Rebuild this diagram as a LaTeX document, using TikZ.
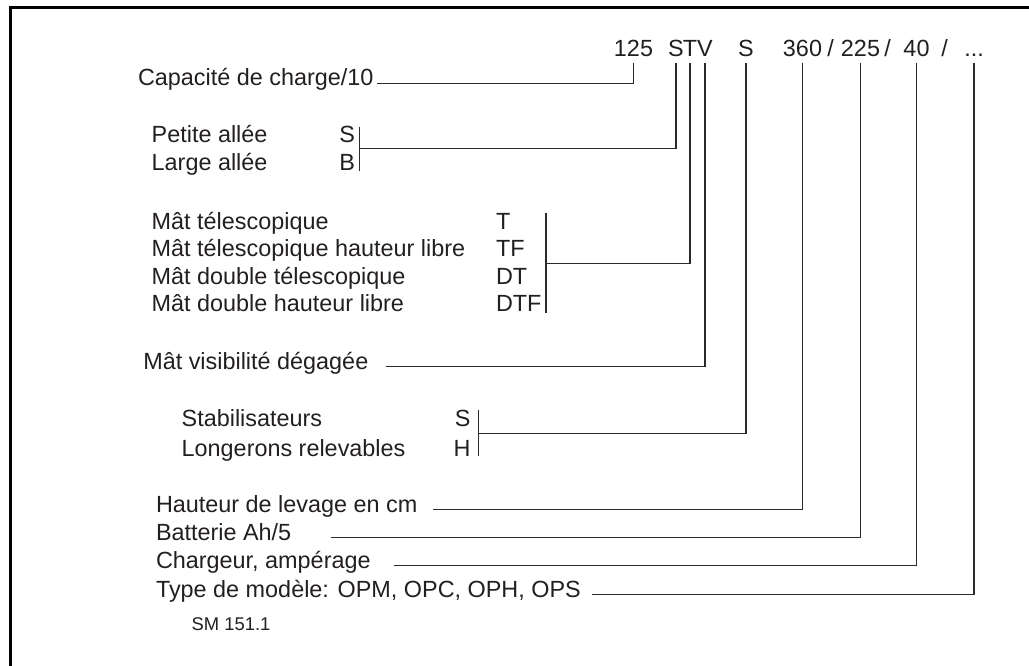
\documentclass[tikz,border=0pt]{standalone}
\usepackage{fontspec}
\setmainfont{Liberation Sans}
\usetikzlibrary{calc}
\definecolor{txt}{HTML}{231F20}
\definecolor{ln}{HTML}{2A2A2A}
\begin{document}
\begin{tikzpicture}[x=1pt,y=-1pt,
  lbl/.style={anchor=base west,inner sep=0pt,outer sep=0pt,text=txt,font=\fontsize{23.4}{28}\selectfont},
  lblr/.style={lbl,anchor=base east},
  code/.style={lbl,anchor=base},
  small/.style={lbl,font=\fontsize{18.4}{22}\selectfont},
  conn/.style={draw=ln,line width=1.1pt},
  frame/.style={draw=black,line width=3pt}]
\useasboundingbox (0,0) rectangle (1029,666);
\draw[frame] (10.3,670) -- (10.3,7.5) -- (1035,7.5);

% code line
\node[code] (c125) at (633.5,56.7) {125};
\node[code] (cS) at (676,56.7) {S};
\node[code] (cT) at (690,56.7) {T};
\node[code] (cV) at (705,56.7) {V};
\node[code] (cS2) at (746,56.7) {S};
\node[code] (c360) at (802.5,56.7) {360};
\node[code] (sl1) at (830.5,56.7) {/};
\node[code] (c225) at (860.5,56.7) {225};
\node[code] (sl2) at (887.5,56.7) {/};
\node[code] (c40) at (916.5,56.7) {40};
\node[code] (sl3) at (944.5,56.7) {/};
\node[code] (cdots) at (974,56.7) {...};

% labels
\node[lbl] (cap) at (138,86) {Capacité de charge/10};

\node[lbl] (pa) at (151.7,143) {Petite allée};
\node[lbl] (la) at (151.7,171) {Large allée};
\node[lblr] (lS) at (355,143) {S};
\node[lblr] (lB) at (355,171) {B};

\node[lbl] (m1) at (151.7,229.3) {Mât télescopique};
\node[lbl] (m2) at (151.7,256.7) {Mât télescopique hauteur libre};
\node[lbl] (m3) at (151.7,284) {Mât double télescopique};
\node[lbl] (m4) at (151.7,311.7) {Mât double hauteur libre};
\node[lbl] (mT) at (496,229.3) {T};
\node[lbl] (mTF) at (496,256.7) {TF};
\node[lbl] (mDT) at (496,284) {DT};
\node[lbl] (mDTF) at (496,311.7) {DTF};

\node[lbl] (mv) at (143.3,369) {Mât visibilité dégagée};

\node[lbl] (st) at (181.7,426.7) {Stabilisateurs};
\node[lbl] (lo) at (181.7,456) {Longerons relevables};
\node[lblr] (sS) at (470.5,426.7) {S};
\node[lblr] (sH) at (470.5,456) {H};

\node[lbl] (hl) at (156,512) {Hauteur de levage en cm};
\node[lbl] (bat) at (156,540.5) {Batterie Ah/5};
\node[lbl] (chg) at (156,568.5) {Chargeur, ampérage};
\node[lbl] (typ) at (156,597) {Type de modèle: OPM, OPC, OPH, OPS};
\node[small] (sm) at (191.7,630.7) {SM 151.1};

% brackets
\coordinate (sbT) at ([xshift=4.5pt]lS.north east);
\coordinate (sbB) at ([xshift=4.5pt]lB.base east);
\draw[conn] (sbT) -- (sbB);
\coordinate (sbm) at ($(sbT)!0.5!(sbB)$);

\coordinate (mbB) at ([xshift=4.5pt,yshift=-1.5pt]mDTF.base east);
\coordinate (mbT) at (mbB |- mT.north);
\draw[conn] (mbT) -- (mbB);
\coordinate (mm) at ($(mbT)!0.5!(mbB)$);

\coordinate (stT) at ([xshift=7.8pt]sS.north east);
\coordinate (stB) at ([xshift=7.8pt]sH.base east);
\draw[conn] (stT) -- (stB);
\coordinate (stm) at ($(stT)!0.5!(stB)$);

% connectors
\draw[conn] ([yshift=-6pt]c125.base) |- ([xshift=4pt]cap.mid east);
\draw[conn] ([yshift=-6pt]cS.base) |- (sbm);
\draw[conn] ([yshift=-6pt]cT.base) |- (mm);
\draw[conn] ([yshift=-6pt]cV.base) |- ([xshift=18pt]mv.mid east);
\draw[conn] ([yshift=-6pt]cS2.base) |- (stm);
\draw[conn] ([yshift=-6pt]c360.base) |- ([xshift=16pt]hl.mid east);
\draw[conn] ([yshift=-6pt]c225.base) |- ([xshift=40pt]bat.mid east);
\draw[conn] ([yshift=-6pt]c40.base) |- ([xshift=23.5pt]chg.mid east);
\draw[conn] ([yshift=-6pt]cdots.base) |- ([xshift=10.7pt]typ.mid east);
\end{tikzpicture}
\end{document}
